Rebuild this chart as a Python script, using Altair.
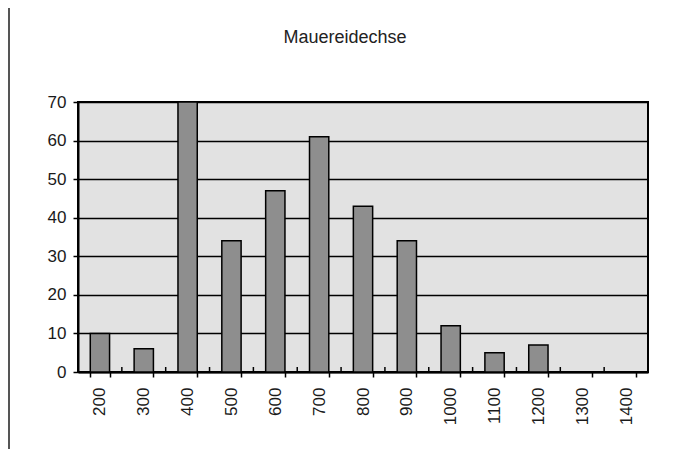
import altair as alt
import pandas as pd

title_text = ["Mauereidechse"]
categories = ["200", "300", "400", "500", "600", "700", "800", "900", "1000", "1100", "1200", "1300", "1400"]
values = [10, 6, 70, 34, 47, 61, 43, 34, 12, 5, 7, 0, 0]
y_ticks = [0, 10, 20, 30, 40, 50, 60, 70]

df = pd.DataFrame({"hoehe": categories, "anzahl": values})
tdf = pd.DataFrame({"t": title_text})

W, H = 570, 270
PAD = {"left": 70, "top": 94, "right": 12, "bottom": 77}
P_IN = 0.56
STEP = W / len(categories)

x_scale = alt.Scale(paddingInner=P_IN, paddingOuter=P_IN / 2)

x_enc = alt.X(
    "hoehe:N",
    sort=categories,
    scale=x_scale,
    axis=alt.Axis(
        title=None,
        labelAngle=270,
        labelFont="Liberation Sans",
        labelFontSize=17,
        labelColor="#1a1a1a",
        labelPadding=10,
        tickBand="extent",
        tickSize=5,
        tickWidth=1.5,
        tickColor="black",
        domainColor="black",
        domainWidth=2,
        grid=False,
    ),
)
y_enc = alt.Y(
    "anzahl:Q",
    scale=alt.Scale(domain=[0, 70], nice=False),
    axis=alt.Axis(
        title=None,
        values=y_ticks,
        labelFont="Liberation Sans",
        labelFontSize=17,
        labelColor="#1a1a1a",
        labelPadding=7,
        tickSize=5,
        tickWidth=1.5,
        tickColor="black",
        domainColor="black",
        domainWidth=2,
        grid=True,
        gridColor="black",
        gridWidth=1.6,
    ),
)

bars = alt.Chart(df).mark_bar(
    color="#8e8e8e", stroke="black", strokeWidth=1.5, clip=True
).encode(x=x_enc, y=y_enc)

# inner half of the crossing x ticks, at the step boundaries
inner_ticks = alt.Chart(df).mark_rule(
    color="black", strokeWidth=1.5, xOffset=-STEP / 2
).encode(
    x=alt.X("hoehe:N", sort=categories, bandPosition=0.5, scale=x_scale),
    y=alt.value(H - 5),
    y2=alt.value(H),
)

title = alt.Chart(tdf).mark_text(
    font="Liberation Sans", fontSize=18, color="#222222",
    align="center", baseline="alphabetic"
).encode(x=alt.value(267), y=alt.value(-59), text="t:N")

frame = alt.Chart(df).mark_rule(color="#555555", strokeWidth=2).encode(
    x=alt.value(-69), y=alt.value(-PAD["top"]), y2=alt.value(H + PAD["bottom"])
)

chart = alt.layer(bars, inner_ticks, title, frame).properties(
    width=W,
    height=H,
    padding=PAD,
    autosize=alt.AutoSizeParams(type="none"),
    background="white",
).configure_view(
    fill="#e2e2e2", stroke="black", strokeWidth=2
)

chart.save("out.html", embed_options={"renderer": "svg", "actions": False})
